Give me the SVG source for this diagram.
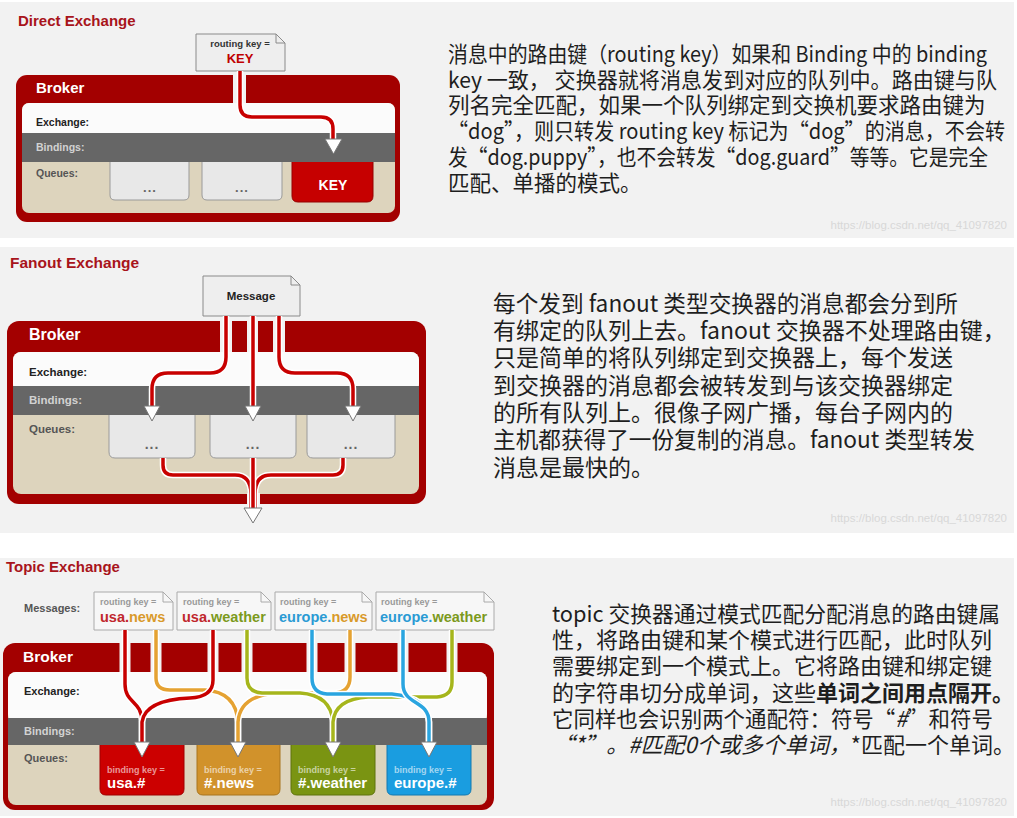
<svg xmlns="http://www.w3.org/2000/svg" width="1017" height="818" viewBox="0 0 1017 818">
<defs>
<style>
.bg{fill:#f2f2f2}
.title{font-family:"Liberation Sans",Arial,sans-serif;font-weight:bold;fill:#a8141b}
.broker{fill:#a30000}
.gap{fill:#f2f2f2}
.white{fill:#fbfbfb}
.band{fill:#666666}
.beige{fill:#ddd4bd}
.lbl{font-family:"Liberation Sans",Arial,sans-serif;font-weight:bold}
.bk{fill:#ffffff}
.ex{fill:#222222}
.bi{fill:#d2d2d2}
.qu{fill:#555555}
.note{fill:#eeeeee;stroke:#8a8a8a;stroke-width:1}
.note3{fill:#f7f7f7;stroke:#aaaaaa;stroke-width:1}
.fold{fill:none;stroke:#8a8a8a;stroke-width:1}
.fold3{fill:none;stroke:#aaaaaa;stroke-width:1}
.q{fill:#e8e8e8;stroke:#9a9a9a;stroke-width:1}
.dots{font-family:"Liberation Sans",Arial,sans-serif;font-weight:bold;fill:#666;text-anchor:middle;letter-spacing:1px}
.arrow{fill:#ffffff;stroke:#777777;stroke-width:1}
.halo{fill:none;stroke:#ffffff;stroke-width:6.5;stroke-linejoin:round}
.wire{fill:none;stroke-width:3.5;stroke-linejoin:round}
.r{stroke:#c80000}
.o{stroke:#e5a232}
.g{stroke:#a6b61c}
.b{stroke:#2aa5e0}
.body{font-family:"Noto Sans CJK SC","Noto Sans CJK TC",sans-serif;fill:#1e1e1e}
.wm{font-family:"Liberation Sans",Arial,sans-serif;font-size:11.5px;fill:#d8d8d8;text-anchor:end}
.cr{fill:#c0272d}.co{fill:#d99a2b}.cg{fill:#7c9a1d}.cb{fill:#2a9bd4}
.bkey{font-family:"Liberation Sans",Arial,sans-serif;font-weight:bold;font-size:9px;fill:#ffffff;fill-opacity:0.6}
.bval{font-family:"Liberation Sans",Arial,sans-serif;font-weight:bold;font-size:15px;fill:#ffffff}
</style>
</defs>

<!-- panel backgrounds -->
<rect class="bg" x="0" y="2" width="1014" height="236"/>
<rect class="bg" x="0" y="247" width="1014" height="286"/>
<rect class="bg" x="0" y="558" width="1014" height="258"/>

<!-- ================= Panel 1: Direct Exchange ================= -->
<g id="direct-title"><text class="title" x="18" y="26" font-size="15">Direct Exchange</text></g>

<g id="direct-broker">
<rect class="broker" x="16" y="75" width="384" height="147" rx="11"/>
<rect class="gap" x="233" y="74" width="13" height="30"/>
<rect class="beige" x="22" y="103" width="373" height="110" rx="7"/>
<rect class="white" x="22" y="103" width="373" height="40" rx="7"/>
<text class="lbl bk" x="36" y="93" font-size="15">Broker</text>
<text class="lbl ex" x="36" y="126" font-size="10.5">Exchange:</text>
<text class="lbl qu" x="36" y="177" font-size="10.5">Queues:</text>
</g>
<g id="direct-q1"><path class="q" d="M110,159 H189 V195 Q189,200 184,200 H115 Q110,200 110,195 Z"/><text class="dots" x="150" y="192" font-size="13">...</text></g>
<g id="direct-q2"><path class="q" d="M202,159 H282 V195 Q282,200 277,200 H207 Q202,200 202,195 Z"/><text class="dots" x="242" y="192" font-size="13">...</text></g>
<g id="direct-q3"><path d="M292,159 H373 V196 Q373,202 367,202 H298 Q292,202 292,196 Z" fill="#c60000" stroke="#950000"/><text class="lbl" x="333" y="190" font-size="14" fill="#ffffff" text-anchor="middle">KEY</text></g>
<g id="direct-bindings">
<rect class="band" x="22" y="133" width="373" height="29"/>
<text class="lbl bi" x="36" y="151" font-size="10.5">Bindings:</text>
</g>
<g id="direct-message">
<path class="note" d="M196,34 H276 L285,43 V71 H196 Z"/>
<path class="fold" d="M276,34 V43 H285"/>
<text class="lbl" x="240" y="47" font-size="9.5" fill="#333" text-anchor="middle">routing key =</text>
<text class="lbl" x="240" y="63" font-size="13" fill="#c00000" text-anchor="middle">KEY</text>
</g>

<!-- ================= Panel 2: Fanout Exchange ================= -->
<g id="fanout-title"><text class="title" x="10" y="268" font-size="15.5">Fanout Exchange</text></g>
<g id="fanout-broker">
<rect class="broker" x="7" y="321" width="419" height="183" rx="12"/>
<rect class="gap" x="220" y="320" width="12" height="32"/>
<rect class="gap" x="247" y="320" width="11" height="32"/>
<rect class="gap" x="273" y="320" width="12" height="32"/>
<rect class="beige" x="13" y="352" width="406" height="142" rx="8"/>
<rect class="white" x="13" y="352" width="406" height="40" rx="8"/>
<rect class="gap" x="247" y="493" width="13" height="12"/>
<text class="lbl bk" x="29" y="340" font-size="16">Broker</text>
<text class="lbl ex" x="29" y="376" font-size="11.5">Exchange:</text>
<text class="lbl qu" x="29" y="433" font-size="11.5">Queues:</text>
</g>
<g id="fanout-q1"><path class="q" d="M109,412 H195 V452 Q195,458 189,458 H115 Q109,458 109,452 Z"/><text class="dots" x="152" y="449" font-size="14">...</text></g>
<g id="fanout-q2"><path class="q" d="M210,412 H296 V452 Q296,458 290,458 H216 Q210,458 210,452 Z"/><text class="dots" x="253" y="449" font-size="14">...</text></g>
<g id="fanout-q3"><path class="q" d="M307,412 H395 V452 Q395,458 389,458 H313 Q307,458 307,452 Z"/><text class="dots" x="351" y="449" font-size="14">...</text></g>
<g id="fanout-bindings">
<rect class="band" x="13" y="386" width="406" height="29"/>
<text class="lbl bi" x="29" y="404" font-size="11.5">Bindings:</text>
</g>
<g id="fanout-message">
<path class="note" d="M203,276 H291 L300,285 V316 H203 Z"/>
<path class="fold" d="M291,276 V285 H300"/>
<text class="lbl" x="251" y="300" font-size="11.5" fill="#222" text-anchor="middle">Message</text>
</g>

<!-- ================= Panel 3: Topic Exchange ================= -->
<g id="topic-title"><text class="title" x="6" y="572" font-size="15">Topic Exchange</text>
<text class="lbl qu" x="24" y="612" font-size="11">Messages:</text></g>
<g id="topic-broker">
<rect class="broker" x="3" y="643" width="491" height="167" rx="12"/>
<rect class="gap" x="119.5" y="642" width="11" height="30"/>
<rect class="gap" x="150.5" y="642" width="11" height="30"/>
<rect class="gap" x="207.5" y="642" width="11" height="30"/>
<rect class="gap" x="241.5" y="642" width="11" height="30"/>
<rect class="gap" x="306.5" y="642" width="11" height="30"/>
<rect class="gap" x="344.5" y="642" width="11" height="30"/>
<rect class="gap" x="397.5" y="642" width="11" height="30"/>
<rect class="gap" x="446.5" y="642" width="11" height="30"/>
<rect class="beige" x="8" y="672" width="479" height="133" rx="8"/>
<rect class="white" x="8" y="672" width="479" height="50" rx="8"/>
<text class="lbl bk" x="23" y="662" font-size="15.5">Broker</text>
<text class="lbl ex" x="24" y="695" font-size="11">Exchange:</text>
<text class="lbl qu" x="24" y="762" font-size="11">Queues:</text>
</g>
<g id="topic-q1"><path d="M100,743 H184 V789 Q184,795 178,795 H106 Q100,795 100,789 Z" fill="#cc0000" stroke="#a00000"/><text class="bkey" x="107" y="773">binding key =</text><text class="bval" x="107" y="788">usa.#</text></g>
<g id="topic-q2"><path d="M197,743 H280 V789 Q280,795 274,795 H203 Q197,795 197,789 Z" fill="#d1922b" stroke="#a8741e"/><text class="bkey" x="204" y="773">binding key =</text><text class="bval" x="204" y="788">#.news</text></g>
<g id="topic-q3"><path d="M291,743 H375 V789 Q375,795 369,795 H297 Q291,795 291,789 Z" fill="#7a9412" stroke="#5e730c"/><text class="bkey" x="298" y="773">binding key =</text><text class="bval" x="298" y="788">#.weather</text></g>
<g id="topic-q4"><path d="M387,743 H471 V789 Q471,795 465,795 H393 Q387,795 387,789 Z" fill="#1a9de0" stroke="#1279b0"/><text class="bkey" x="394" y="773">binding key =</text><text class="bval" x="394" y="788">europe.#</text></g>
<g id="topic-bindings">
<rect class="band" x="8" y="718" width="479" height="27"/>
<text class="lbl bi" x="24" y="735" font-size="11">Bindings:</text>
</g>
<g id="topic-m1"><path class="note3" d="M94,592 H163 L173,602 V630 H94 Z"/><path class="fold3" d="M163,592 V602 H173"/>
<text class="lbl" x="100" y="605" font-size="9" fill="#999">routing key =</text>
<text class="lbl" x="100" y="622" font-size="14.5"><tspan class="cr">usa.</tspan><tspan class="co">news</tspan></text></g>
<g id="topic-m2"><path class="note3" d="M177,592 H261 L271,602 V630 H177 Z"/><path class="fold3" d="M261,592 V602 H271"/>
<text class="lbl" x="183" y="605" font-size="9" fill="#999">routing key =</text>
<text class="lbl" x="182" y="622" font-size="14.5"><tspan class="cr">usa.</tspan><tspan class="cg">weather</tspan></text></g>
<g id="topic-m3"><path class="note3" d="M275,592 H362 L372,602 V630 H275 Z"/><path class="fold3" d="M362,592 V602 H372"/>
<text class="lbl" x="280" y="605" font-size="9" fill="#999">routing key =</text>
<text class="lbl" x="279" y="622" font-size="14.5"><tspan class="cb">europe.</tspan><tspan class="co">news</tspan></text></g>
<g id="topic-m4"><path class="note3" d="M376,592 H484 L494,602 V630 H376 Z"/><path class="fold3" d="M484,592 V602 H494"/>
<text class="lbl" x="381" y="605" font-size="9" fill="#999">routing key =</text>
<text class="lbl" x="380" y="622" font-size="14.5"><tspan class="cb">europe.</tspan><tspan class="cg">weather</tspan></text></g>

<!-- ================= Connectors ================= -->
<g id="connectors">
<!-- direct -->
<path class="halo" d="M240,71 V105 Q240,117 252,117 H321 Q333,117 333,129 V141"/>
<path class="wire r" d="M240,71 V105 Q240,117 252,117 H321 Q333,117 333,129 V141"/>
<!-- fanout in -->
<path class="halo" d="M226,316 V357 Q226,373 210,373 H168 Q152,373 152,389 V407"/>
<path class="halo" d="M253,316 V407"/>
<path class="halo" d="M279,316 V357 Q279,373 295,373 H337 Q353,373 353,389 V407"/>
<path class="wire r" d="M226,316 V357 Q226,373 210,373 H168 Q152,373 152,389 V407"/>
<path class="wire r" d="M253,316 V407"/>
<path class="wire r" d="M279,316 V357 Q279,373 295,373 H337 Q353,373 353,389 V407"/>
<!-- fanout out -->
<path class="halo" d="M163,458 V465 Q163,475 173,475 H235 Q251,475 251,494 V509"/>
<path class="halo" d="M343,458 V465 Q343,475 333,475 H271 Q255,475 255,494 V509"/>
<path class="wire r" d="M163,458 V465 Q163,475 173,475 H235 Q251,475 251,494 V509"/>
<path class="wire r" d="M343,458 V465 Q343,475 333,475 H271 Q255,475 255,494 V509"/>
<path class="halo" d="M253,458 V509" stroke-width="5"/>
<path class="wire r" d="M253,458 V509"/>
<!-- topic -->
<path class="halo" d="M156,630 V678 Q156,690 170,690 H205 Q236,692 238,722 V743"/>
<path class="wire o" d="M156,630 V678 Q156,690 170,690 H205 Q236,692 238,722 V743"/>
<path class="halo" d="M350,630 V677 Q350,692 335,693 H278 Q240,695 238,722 V743"/>
<path class="wire o" d="M350,630 V677 Q350,692 335,693 H278 Q240,695 238,722 V743"/>
<path class="halo" d="M247,630 V678 Q247,692 262,693 H300 Q331,695 333,722 V743"/>
<path class="wire g" d="M247,630 V678 Q247,692 262,693 H300 Q331,695 333,722 V743"/>
<path class="halo" d="M452,630 V682 Q452,696 437,697 H368 Q335,699 333,722 V743"/>
<path class="wire g" d="M452,630 V682 Q452,696 437,697 H368 Q335,699 333,722 V743"/>
<path class="halo" d="M312,630 V678 Q312,693 327,694 H392 Q427,697 429,722 V743"/>
<path class="wire b" d="M312,630 V678 Q312,693 327,694 H392 Q427,697 429,722 V743"/>
<path class="halo" d="M403,630 V684 C403,705 429,700 429,722 V743"/>
<path class="wire b" d="M403,630 V684 C403,705 429,700 429,722 V743"/>
<path class="halo" d="M125,630 V684 C125,704 142,700 142,722 V743"/>
<path class="wire r" d="M125,630 V684 C125,704 142,700 142,722 V743"/>
<path class="halo" d="M213,630 V680 Q213,697 190,698 Q145,700 142,722 V743"/>
<path class="wire r" d="M213,630 V680 Q213,697 190,698 Q145,700 142,722 V743"/>
</g>

<!-- arrowheads -->
<g id="arrows">
<polygon class="arrow" points="325,139 342,139 333.5,154"/>
<polygon class="arrow" points="144,406 160,406 152,421"/>
<polygon class="arrow" points="245,406 261,406 253,421"/>
<polygon class="arrow" points="345,406 361,406 353,421"/>
<polygon class="arrow" points="244,508 262,508 253,523"/>
<polygon class="arrow" points="134,742 150,742 142,757"/>
<polygon class="arrow" points="230,742 246,742 238,757"/>
<polygon class="arrow" points="325,742 341,742 333,757"/>
<polygon class="arrow" points="421,742 437,742 429,757"/>
</g>

<!-- ================= Right-side texts ================= -->
<g id="direct-text" class="body" font-size="21.5">
<text x="448" y="62" textLength="539" lengthAdjust="spacingAndGlyphs">消息中的路由键（routing key）如果和 Binding 中的 binding</text>
<text x="448" y="87.5" textLength="549" lengthAdjust="spacingAndGlyphs">key 一致， 交换器就将消息发到对应的队列中。路由键与队</text>
<text x="448" y="113">列名完全匹配，如果一个队列绑定到交换机要求路由键为</text>
<text x="448" y="139" textLength="557" lengthAdjust="spacingAndGlyphs">“dog”，则只转发 routing key 标记为“dog”的消息，不会转</text>
<text x="448" y="164.5" textLength="540" lengthAdjust="spacingAndGlyphs">发“dog.puppy”，也不会转发“dog.guard”等等。它是完全</text>
<text x="448" y="190.5">匹配、单播的模式。</text>
</g>
<g id="fanout-text" class="body" font-size="23">
<text x="493" y="311.5" textLength="465" lengthAdjust="spacingAndGlyphs">每个发到 fanout 类型交换器的消息都会分到所</text>
<text x="493" y="339">有绑定的队列上去。fanout 交换器不处理路由键，</text>
<text x="493" y="366">只是简单的将队列绑定到交换器上，每个发送</text>
<text x="493" y="393.5">到交换器的消息都会被转发到与该交换器绑定</text>
<text x="493" y="421">的所有队列上。很像子网广播，每台子网内的</text>
<text x="493" y="448" textLength="482" lengthAdjust="spacingAndGlyphs">主机都获得了一份复制的消息。fanout 类型转发</text>
<text x="493" y="475.5">消息是最快的。</text>
</g>
<g id="topic-text" class="body" font-size="22">
<text x="552" y="621.5" textLength="448" lengthAdjust="spacingAndGlyphs">topic 交换器通过模式匹配分配消息的路由键属</text>
<text x="552" y="648">性，将路由键和某个模式进行匹配，此时队列</text>
<text x="552" y="674">需要绑定到一个模式上。它将路由键和绑定键</text>
<text x="552" y="700.5">的字符串切分成单词，这些<tspan font-weight="bold">单词之间用点隔开。</tspan></text>
<text x="552" y="726.5" textLength="441" lengthAdjust="spacingAndGlyphs">它同样也会识别两个通配符：符号“<tspan font-style="italic">#</tspan>”和符号</text>
<text x="552" y="753"><tspan font-style="italic">“*”。#匹配0个或多个单词，</tspan>*匹配一个单词。</text>
</g>

<!-- watermarks -->
<g id="watermarks">
<text class="wm" x="1007" y="229">https://blog.csdn.net/qq_41097820</text>
<text class="wm" x="1007" y="522">https://blog.csdn.net/qq_41097820</text>
<text class="wm" x="1007" y="806">https://blog.csdn.net/qq_41097820</text>
</g>
</svg>
